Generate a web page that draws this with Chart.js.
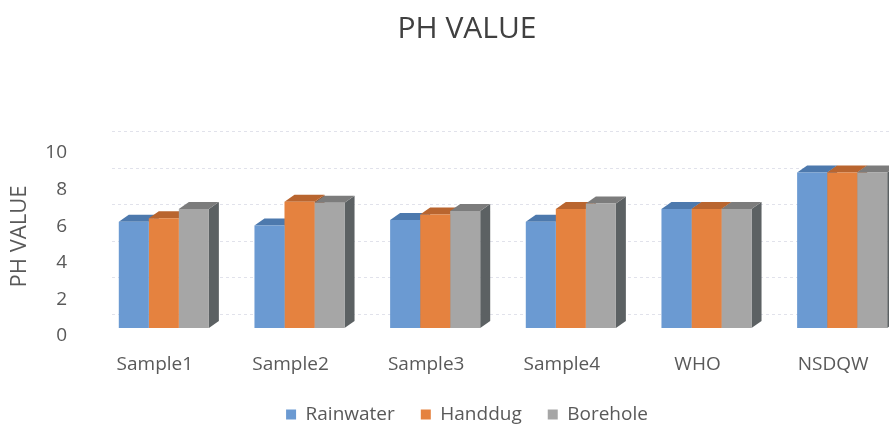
<!DOCTYPE html>
<html>
<head>
<meta charset="utf-8">
<script src="https://cdn.jsdelivr.net/npm/chart.js@4/dist/chart.umd.min.js"></script>
<style>
  html, body { margin: 0; padding: 0; background: #ffffff; overflow: hidden; }
  canvas { display: block; }
</style>
</head>
<body>
<canvas id="chart" width="930" height="434"></canvas>
<script>
// pH readings per sample and the reference guideline values
const categories = ['Sample1', 'Sample2', 'Sample3', 'Sample4', 'WHO', 'NSDQW'];
const rainwater = [5.8, 5.6, 5.9, 5.8, 6.5, 8.5];
const handdug   = [6.0, 6.9, 6.2, 6.5, 6.5, 8.5];
const borehole  = [6.5, 6.85, 6.4, 6.8, 6.5, 8.5];
const yTickValues = [0, 2, 4, 6, 8, 10];

// front, top and side shades for each series
const shades = [
  { front: '#6b9ad2', top: '#4d79ad', side: '#3f6592' },
  { front: '#e5823f', top: '#b9652f', side: '#9a5428' },
  { front: '#a6a6a6', top: '#7c7c7c', side: '#5c6163' }
];

const DEPTH_X = 10;
const DEPTH_Y = 7;
const WALL_SHIFT = 14;

// back-wall grid lines and the top/side faces of each column
const boxPlugin = {
  id: 'boxFaces',
  beforeDatasetsDraw(chart) {
    const ctx = chart.ctx;
    const y = chart.scales.y;
    const area = chart.chartArea;
    ctx.save();
    ctx.strokeStyle = 'rgba(200,202,218,0.55)';
    ctx.lineWidth = 1;
    ctx.setLineDash([3, 3]);
    yTickValues.forEach(v => {
      const py = Math.round(y.getPixelForValue(v) - WALL_SHIFT) + 0.5;
      ctx.beginPath();
      ctx.moveTo(area.left + 16, py);
      ctx.lineTo(area.right, py);
      ctx.stroke();
    });
    ctx.setLineDash([]);

    const metas = chart.data.datasets.map((d, i) => chart.getDatasetMeta(i));
    for (let c = 0; c < categories.length; c++) {
      metas.forEach((meta, s) => {
        const bar = meta.data[c];
        if (!bar) return;
        const p = bar.getProps(['x', 'y', 'base', 'width'], true);
        const L = p.x - p.width / 2, R = p.x + p.width / 2;
        const top = p.y, base = p.base;
        // side face
        ctx.fillStyle = shades[s].side;
        ctx.beginPath();
        ctx.moveTo(R, top);
        ctx.lineTo(R + DEPTH_X, top - DEPTH_Y);
        ctx.lineTo(R + DEPTH_X, base - DEPTH_Y);
        ctx.lineTo(R, base);
        ctx.closePath();
        ctx.fill();
        // top face
        ctx.fillStyle = shades[s].top;
        ctx.beginPath();
        ctx.moveTo(L, top);
        ctx.lineTo(R, top);
        ctx.lineTo(R + DEPTH_X, top - DEPTH_Y);
        ctx.lineTo(L + DEPTH_X, top - DEPTH_Y);
        ctx.closePath();
        ctx.fill();
      });
    }
    ctx.restore();
  }
};

const textColor = '#595959';
const fontFamily = '"Open Sans", "DejaVu Sans", sans-serif';

new Chart(document.getElementById('chart'), {
  type: 'bar',
  data: {
    labels: categories,
    datasets: [
      { label: 'Rainwater', data: rainwater, backgroundColor: shades[0].front },
      { label: 'Handdug',   data: handdug,   backgroundColor: shades[1].front },
      { label: 'Borehole',  data: borehole,  backgroundColor: shades[2].front }
    ]
  },
  options: {
    responsive: false,
    animation: false,
    devicePixelRatio: 1,
    layout: { padding: { left: 24, right: 20, top: 0, bottom: 0 } },
    datasets: {
      bar: { categoryPercentage: 0.664, barPercentage: 1.0, borderWidth: 0 }
    },
    scales: {
      x: {
        afterFit(scale) { scale.height = 51; },
        grid: { display: false, drawTicks: false },
        border: { display: false },
        ticks: {
          color: textColor,
          font: { family: fontFamily, size: 19 },
          padding: 25,
          labelOffset: -9
        }
      },
      y: {
        min: 0,
        max: 10,
        afterBuildTicks(scale) {
          scale.ticks = yTickValues.map(v => ({ value: v }));
        },
        afterFit(scale) { scale.width = 72; },
        grid: { display: false, drawTicks: false },
        border: { display: false },
        ticks: {
          color: textColor,
          font: { family: fontFamily, size: 19 },
          padding: 29,
          labelOffset: 8
        },
        title: {
          display: true,
          text: 'PH VALUE',
          color: textColor,
          font: { family: fontFamily, size: 22 },
          padding: { top: -17, bottom: 0 }
        }
      }
    },
    plugins: {
      title: {
        display: true,
        text: 'PH VALUE',
        color: '#404040',
        font: { family: fontFamily, size: 30, weight: 'normal' },
        padding: { top: 11, bottom: 98 }
      },
      legend: {
        position: 'bottom',
        labels: {
          color: textColor,
          font: { family: fontFamily, size: 19 },
          boxWidth: 10,
          boxHeight: 10,
          padding: 26
        }
      },
      tooltip: { enabled: false }
    }
  },
  plugins: [boxPlugin]
});
</script>
</body>
</html>
